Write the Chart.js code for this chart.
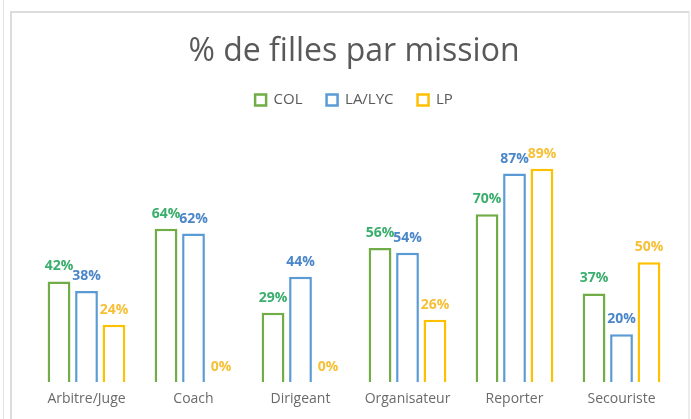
<!DOCTYPE html>
<html>
<head>
<meta charset="utf-8">
<script src="https://cdn.jsdelivr.net/npm/chart.js@4"></script>
<style>
  html, body { margin: 0; padding: 0; background: #fff; }
  body { width: 691px; height: 419px; position: relative; overflow: hidden; }
  #edge { position: absolute; left: 3px; top: 0; width: 1px; height: 419px; background: #e2e2e2; }
  #frame { position: absolute; left: 10px; top: 11px; width: 676px; height: 420px;
           border: 2px solid #dcdcdc; border-right-color: #ececec; border-bottom: none; }
  #wrap { position: absolute; left: 0; top: 0; width: 691px; height: 419px; }
</style>
</head>
<body>
<div id="edge"></div>
<div id="frame"></div>
<div id="wrap"><canvas id="chart"></canvas></div>
<script>
const missions = ['Arbitre/Juge', 'Coach', 'Dirigeant', 'Organisateur', 'Reporter', 'Secouriste'];
const colValues = [42, 64, 29, 56, 70, 37];
const lycValues = [38, 62, 44, 54, 87, 20];
const lpValues = [24, 0, 0, 26, 89, 50];

const borderColors = ['#70ad47', '#5b9bd5', '#ffc000'];
const labelColors = ['#3aae6c', '#4a86c8', '#f6c037'];

// extra room between the legend and the bars
const legendGap = {
    id: 'legendGap',
    beforeInit(chart) {
        const fit = chart.legend.fit;
        chart.legend.fit = function () {
            fit.bind(chart.legend)();
            this.height += 25;
        };
    }
};

const valueLabels = {
    id: 'valueLabels',
    afterDatasetsDraw(chart) {
        const ctx = chart.ctx;
        ctx.save();
        ctx.font = 'bold 14px "Open Sans"';
        ctx.textAlign = 'center';
        ctx.textBaseline = 'bottom';
        chart.data.datasets.forEach((ds, i) => {
            const meta = chart.getDatasetMeta(i);
            ctx.fillStyle = labelColors[i];
            meta.data.forEach((bar, j) => {
                ctx.fillText(ds.data[j] + '%', bar.x, bar.y - 8);
            });
        });
        ctx.restore();
    }
};

function makeDataset(label, values, i) {
    return {
        label: label,
        data: values,
        backgroundColor: '#ffffff',
        borderColor: borderColors[i],
        borderWidth: 2.5,
        categoryPercentage: 0.77,
        barPercentage: 0.83
    };
}

const ctx = document.getElementById('chart').getContext('2d');
const chart = new Chart(ctx, {
    type: 'bar',
    data: {
        labels: missions,
        datasets: [
            makeDataset('COL', colValues, 0),
            makeDataset('LA/LYC', lycValues, 1),
            makeDataset('LP', lpValues, 2)
        ]
    },
    options: {
        responsive: true,
        maintainAspectRatio: false,
        animation: false,
        layout: { padding: { top: 20, left: 33, right: 16, bottom: 12 } },
        plugins: {
            title: {
                display: true,
                text: '% de filles par mission',
                color: '#595959',
                font: { family: '"Open Sans"', size: 32, weight: 'normal' },
                padding: { top: 13, bottom: -3 }
            },
            legend: {
                position: 'top',
                labels: {
                    color: '#595959',
                    font: { family: '"Open Sans"', size: 15 },
                    boxWidth: 11,
                    boxHeight: 11,
                    padding: 24
                }
            },
            tooltip: { enabled: false }
        },
        scales: {
            x: {
                grid: { display: false },
                border: { display: false },
                ticks: {
                    color: '#6a6a6a',
                    font: { family: '"Open Sans"', size: 14 },
                    padding: 0
                }
            },
            y: {
                display: false,
                min: 0,
                max: 100
            }
        }
    },
    plugins: [legendGap, valueLabels]
});
</script>
</body>
</html>
